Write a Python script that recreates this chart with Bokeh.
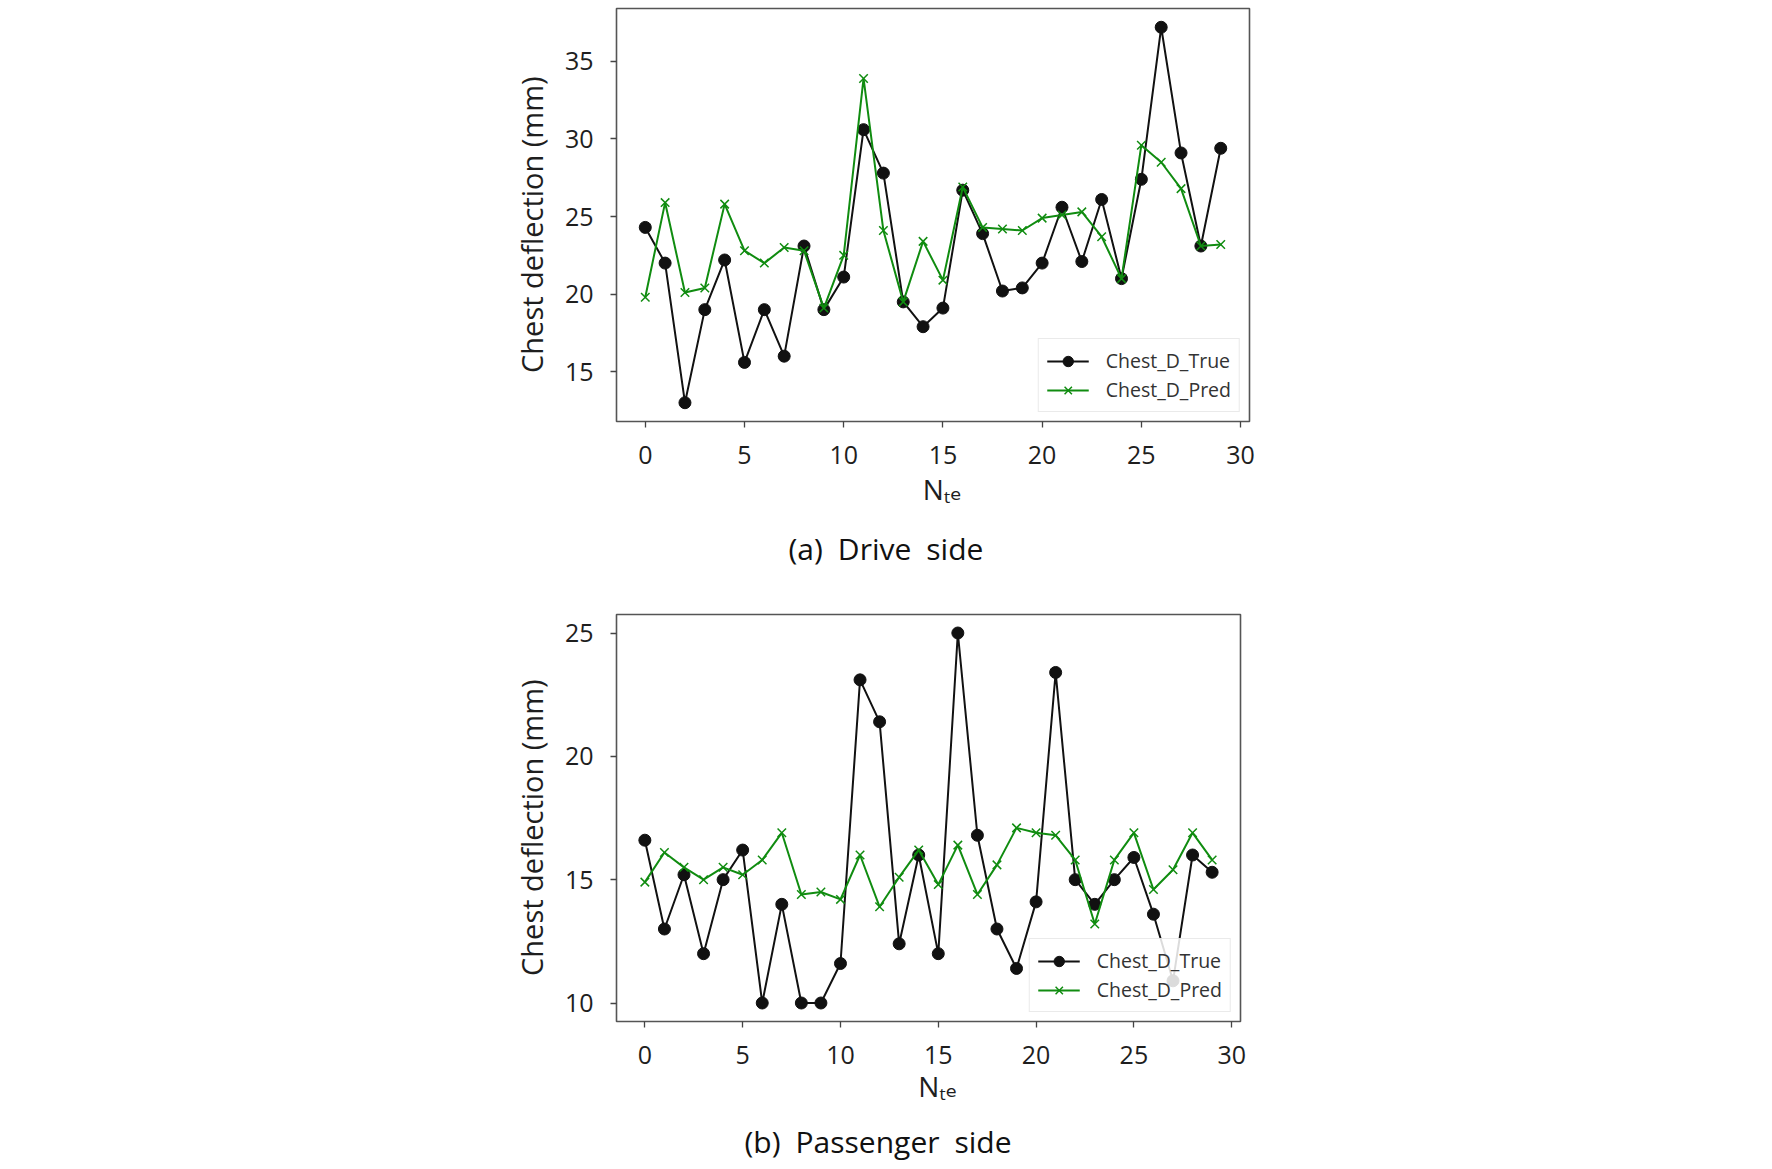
from bokeh.plotting import figure
from bokeh.models import Range1d, FixedTicker, Title
from bokeh.layouts import column
from bokeh.embed import file_html
from bokeh.resources import INLINE

# ---------------- data ----------------
n_te = list(range(30))

drive_true = [24.3, 22.0, 13.0, 19.0, 22.2, 15.6, 19.0, 16.0, 23.1, 19.0,
              21.1, 30.6, 27.8, 19.5, 17.9, 19.1, 26.7, 23.9, 20.2, 20.4,
              22.0, 25.6, 22.1, 26.1, 21.0, 27.4, 37.2, 29.1, 23.1, 29.4]
drive_pred = [19.8, 25.9, 20.1, 20.4, 25.8, 22.8, 22.0, 23.0, 22.8, 19.1,
              22.5, 33.9, 24.1, 19.5, 23.4, 20.9, 26.9, 24.3, 24.2, 24.1,
              24.9, 25.1, 25.3, 23.7, 21.0, 29.6, 28.5, 26.8, 23.1, 23.2]

pass_true = [16.6, 13.0, 15.2, 12.0, 15.0, 16.2, 10.0, 14.0, 10.0, 10.0,
             11.6, 23.1, 21.4, 12.4, 16.0, 12.0, 25.0, 16.8, 13.0, 11.4,
             14.1, 23.4, 15.0, 14.0, 15.0, 15.9, 13.6, 10.9, 16.0, 15.3]
pass_pred = [14.9, 16.1, 15.5, 15.0, 15.5, 15.2, 15.8, 16.9, 14.4, 14.5,
             14.2, 16.0, 13.9, 15.1, 16.2, 14.8, 16.4, 14.4, 15.6, 17.1,
             16.9, 16.8, 15.8, 13.2, 15.8, 16.9, 14.6, 15.4, 16.9, 15.8]

x_ticks = [0, 5, 10, 15, 20, 25, 30]
drive_y_ticks = [15, 20, 25, 30, 35]
pass_y_ticks = [10, 15, 20, 25]

series_labels = ["Chest_D_True", "Chest_D_Pred"]
y_label = "Chest deflection (mm)\u2002\u2009"
x_label = "\u2002\u2009N\u209c\u2091"
captions = ["(a)\u2002Drive\u2002side", "(b)\u2002Passenger\u2002side"]

FONT = "Open Sans"
SUB_FONT = "Open Sans, DejaVu Sans"
TXT = "#1e1e1e"
BLACK = "#111111"
GREEN = "#108c10"
PAGE_W = 1260


def padded(vals, frac=0.05):
    lo, hi = min(vals), max(vals)
    d = (hi - lo) * frac
    return lo - d, hi + d


def make_panel(true_v, pred_v, yticks, frame_w, frame_h, left, top, bottom,
               caption, cap_offset, cap_standoff, xl_standoff):
    x0, x1 = padded(n_te)
    y0, y1 = padded(true_v + pred_v)
    p = figure(frame_width=frame_w, frame_height=frame_h,
               x_range=Range1d(x0, x1), y_range=Range1d(y0, y1),
               output_backend="svg", toolbar_location=None,
               min_border_left=left,
               min_border_right=PAGE_W - left - frame_w,
               min_border_top=top, min_border_bottom=bottom)
    p.background_fill_color = "white"
    p.border_fill_color = "white"
    p.grid.visible = False
    p.outline_line_color = "#555555"
    p.outline_line_width = 1.6

    for ax, ticks in ((p.xaxis[0], x_ticks), (p.yaxis[0], yticks)):
        ax.ticker = FixedTicker(ticks=ticks)
        ax.minor_tick_line_color = None
        ax.major_tick_in = 0
        ax.major_tick_out = 6
        ax.major_tick_line_color = "#444444"
        ax.major_tick_line_width = 1.3
        ax.axis_line_color = None
        ax.major_label_text_font = FONT
        ax.major_label_text_font_size = "25px"
        ax.major_label_text_color = TXT
    p.xaxis.major_label_standoff = 18
    p.yaxis.major_label_standoff = 17

    p.yaxis.axis_label = y_label
    p.yaxis.axis_label_text_font = FONT
    p.yaxis.axis_label_text_font_size = "29px"
    p.yaxis.axis_label_text_font_style = "normal"
    p.yaxis.axis_label_text_color = TXT
    p.yaxis.axis_label_standoff = 11

    p.xaxis.axis_label = x_label
    p.xaxis.axis_label_text_font = SUB_FONT
    p.xaxis.axis_label_text_font_size = "28px"
    p.xaxis.axis_label_text_font_style = "normal"
    p.xaxis.axis_label_text_color = TXT
    p.xaxis.axis_label_standoff = xl_standoff

    cap = Title(text=caption, align="left", offset=cap_offset,
                standoff=cap_standoff, text_font=FONT,
                text_font_size="30px", text_font_style="normal",
                text_color="#111111")
    p.add_layout(cap, "below")

    p.line(n_te, true_v, line_color=BLACK, line_width=2,
           legend_label=series_labels[0])
    p.scatter(n_te, true_v, marker="circle", size=12, fill_color=BLACK,
              line_color=BLACK, legend_label=series_labels[0])
    p.line(n_te, pred_v, line_color=GREEN, line_width=2,
           legend_label=series_labels[1])
    p.scatter(n_te, pred_v, marker="x", size=12, line_color=GREEN,
              line_width=1.5, legend_label=series_labels[1])

    lg = p.legend[0]
    lg.location = "bottom_right"
    lg.margin = 9
    lg.padding = 8
    lg.spacing = 2
    lg.glyph_width = 42
    lg.glyph_height = 26
    lg.label_height = 26
    lg.label_standoff = 17
    lg.label_text_font = FONT
    lg.label_text_font_size = "19.5px"
    lg.label_text_color = "#333333"
    lg.border_line_color = "#d6d6d6"
    lg.border_line_width = 1.2
    lg.background_fill_alpha = 0.85
    return p


p1 = make_panel(drive_true, drive_pred, drive_y_ticks, 633, 413, 615, 8, 170,
                captions[0], 172, 31, 3)
p2 = make_panel(pass_true, pass_pred, pass_y_ticks, 624, 407, 616, 23, 140,
                captions[1], 128, 23, 0)

layout = column(p1, p2, spacing=0)
open("out.html", "w").write(file_html(layout, INLINE))
